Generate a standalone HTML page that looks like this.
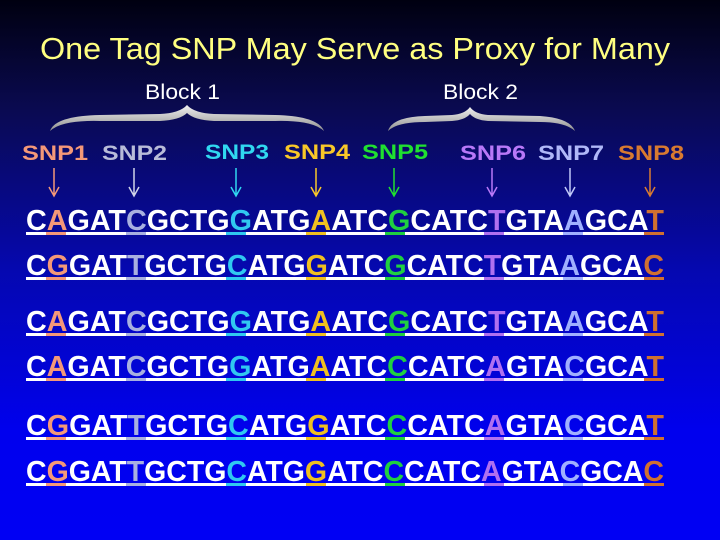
<!DOCTYPE html>
<html><head><meta charset="utf-8"><style>
html,body{margin:0;padding:0;width:720px;height:540px;overflow:hidden}
svg{display:block}
text{font-family:"Liberation Sans",Arial,sans-serif}
</style></head><body>
<svg width="720" height="540" viewBox="0 0 720 540" xmlns="http://www.w3.org/2000/svg">
<defs>
<linearGradient id="bg" x1="0" y1="0" x2="0" y2="1">
<stop offset="0" stop-color="#000010"/>
<stop offset="0.2" stop-color="#0a0a50"/>
<stop offset="0.5" stop-color="#0508b0"/>
<stop offset="0.8" stop-color="#0000ee"/>
<stop offset="1" stop-color="#0000f4"/>
</linearGradient>
<linearGradient id="br" x1="0" y1="0" x2="0" y2="1">
<stop offset="0" stop-color="#f0f0f0"/><stop offset="1" stop-color="#909090"/>
</linearGradient>
</defs>
<rect width="720" height="540" fill="url(#bg)"/>
<text x="40" y="59" font-size="31" fill="#ffff80" textLength="630" lengthAdjust="spacingAndGlyphs">One Tag SNP May Serve as Proxy for Many</text>
<g font-size="21" fill="#fff">
<text x="145" y="99" textLength="75" lengthAdjust="spacingAndGlyphs">Block 1</text>
<text x="443" y="99" textLength="75" lengthAdjust="spacingAndGlyphs">Block 2</text>
</g>
<path d="M50 131 Q55 116 100 115 L160 114 Q180 113 187 105 Q194 113 214 114 L275 115 Q318 116 324 131 Q312 120 275 121 L214 121 Q194 120 187 113 Q180 120 160 121 L100 121 Q62 120 50 131Z" fill="url(#br)"/>
<path d="M388 131 Q392 117 425 116 L452 115 Q465 114 470 107 Q475 114 488 115 L540 116 Q570 118 575 131 Q565 122 540 122 L488 121 Q475 120 470 114 Q465 120 452 121 L425 122 Q397 122 388 131Z" fill="url(#br)"/>
<g font-size="21" font-weight="bold">
<text x="22" y="160" fill="#f49878" textLength="66" lengthAdjust="spacingAndGlyphs">SNP1</text>
<text x="102" y="160" fill="#b8bcd8" textLength="65" lengthAdjust="spacingAndGlyphs">SNP2</text>
<text x="205" y="159" fill="#30d8f0" textLength="64" lengthAdjust="spacingAndGlyphs">SNP3</text>
<text x="284" y="159" fill="#f8c828" textLength="66" lengthAdjust="spacingAndGlyphs">SNP4</text>
<text x="362" y="159" fill="#20e030" textLength="66" lengthAdjust="spacingAndGlyphs">SNP5</text>
<text x="460" y="160" fill="#b878f8" textLength="66" lengthAdjust="spacingAndGlyphs">SNP6</text>
<text x="538" y="160" fill="#b0b8f8" textLength="66" lengthAdjust="spacingAndGlyphs">SNP7</text>
<text x="618" y="160" fill="#d87a30" textLength="66" lengthAdjust="spacingAndGlyphs">SNP8</text>
</g>
<g stroke-width="1.5" fill="none">
<path d="M54 168V195M49 187L54 196L59 187" stroke="#f49878"/>
<path d="M134 168V195M129 187L134 196L139 187" stroke="#d0d4e8"/>
<path d="M236 168V195M231 187L236 196L241 187" stroke="#30d8f0"/>
<path d="M316 168V195M311 187L316 196L321 187" stroke="#f8c828"/>
<path d="M394 168V195M389 187L394 196L399 187" stroke="#20e030"/>
<path d="M492 168V195M487 187L492 196L497 187" stroke="#b878f8"/>
<path d="M570 168V195M565 187L570 196L575 187" stroke="#c0c8f8"/>
<path d="M650 168V195M645 187L650 196L655 187" stroke="#d87a30"/>
</g>
<g font-size="28.5" font-weight="bold" fill="#fff">
<text x="26" y="230" textLength="638" lengthAdjust="spacingAndGlyphs">C<tspan fill="#f49878">A</tspan>GAT<tspan fill="#a8b0e0">C</tspan>GCTG<tspan fill="#30c8f0">G</tspan>ATG<tspan fill="#f0c020">A</tspan>ATC<tspan fill="#20d040">G</tspan>CATC<tspan fill="#b070f0">T</tspan>GTA<tspan fill="#a0b0ff">A</tspan>GCA<tspan fill="#d07030">T</tspan></text>
<text x="26" y="275" textLength="638" lengthAdjust="spacingAndGlyphs">C<tspan fill="#f49878">G</tspan>GAT<tspan fill="#a8b0e0">T</tspan>GCTG<tspan fill="#30c8f0">C</tspan>ATG<tspan fill="#f0c020">G</tspan>ATC<tspan fill="#20d040">G</tspan>CATC<tspan fill="#b070f0">T</tspan>GTA<tspan fill="#a0b0ff">A</tspan>GCA<tspan fill="#d07030">C</tspan></text>
<text x="26" y="331" textLength="638" lengthAdjust="spacingAndGlyphs">C<tspan fill="#f49878">A</tspan>GAT<tspan fill="#a8b0e0">C</tspan>GCTG<tspan fill="#30c8f0">G</tspan>ATG<tspan fill="#f0c020">A</tspan>ATC<tspan fill="#20d040">G</tspan>CATC<tspan fill="#b070f0">T</tspan>GTA<tspan fill="#a0b0ff">A</tspan>GCA<tspan fill="#d07030">T</tspan></text>
<text x="26" y="376" textLength="638" lengthAdjust="spacingAndGlyphs">C<tspan fill="#f49878">A</tspan>GAT<tspan fill="#a8b0e0">C</tspan>GCTG<tspan fill="#30c8f0">G</tspan>ATG<tspan fill="#f0c020">A</tspan>ATC<tspan fill="#20d040">C</tspan>CATC<tspan fill="#b070f0">A</tspan>GTA<tspan fill="#a0b0ff">C</tspan>GCA<tspan fill="#d07030">T</tspan></text>
<text x="26" y="435" textLength="638" lengthAdjust="spacingAndGlyphs">C<tspan fill="#f49878">G</tspan>GAT<tspan fill="#a8b0e0">T</tspan>GCTG<tspan fill="#30c8f0">C</tspan>ATG<tspan fill="#f0c020">G</tspan>ATC<tspan fill="#20d040">C</tspan>CATC<tspan fill="#b070f0">A</tspan>GTA<tspan fill="#a0b0ff">C</tspan>GCA<tspan fill="#d07030">T</tspan></text>
<text x="26" y="481" textLength="638" lengthAdjust="spacingAndGlyphs">C<tspan fill="#f49878">G</tspan>GAT<tspan fill="#a8b0e0">T</tspan>GCTG<tspan fill="#30c8f0">C</tspan>ATG<tspan fill="#f0c020">G</tspan>ATC<tspan fill="#20d040">C</tspan>CATC<tspan fill="#b070f0">A</tspan>GTA<tspan fill="#a0b0ff">C</tspan>GCA<tspan fill="#d07030">C</tspan></text>
</g>
<g id="ul">
<rect x="26" y="232" width="638" height="3" fill="#fff"/>
<rect x="46" y="232" width="20" height="3" fill="#f49878"/>
<rect x="126" y="232" width="20" height="3" fill="#a8b0e0"/>
<rect x="226" y="232" width="20" height="3" fill="#30c8f0"/>
<rect x="306" y="232" width="20" height="3" fill="#f0c020"/>
<rect x="385" y="232" width="20" height="3" fill="#20d040"/>
<rect x="484" y="232" width="20" height="3" fill="#b070f0"/>
<rect x="563" y="232" width="20" height="3" fill="#a0b0ff"/>
<rect x="644" y="232" width="20" height="3" fill="#d07030"/>
</g>
<use href="#ul" y="45"/>
<use href="#ul" y="101"/>
<use href="#ul" y="146"/>
<use href="#ul" y="205"/>
<use href="#ul" y="251"/>
</svg>
</body></html>
